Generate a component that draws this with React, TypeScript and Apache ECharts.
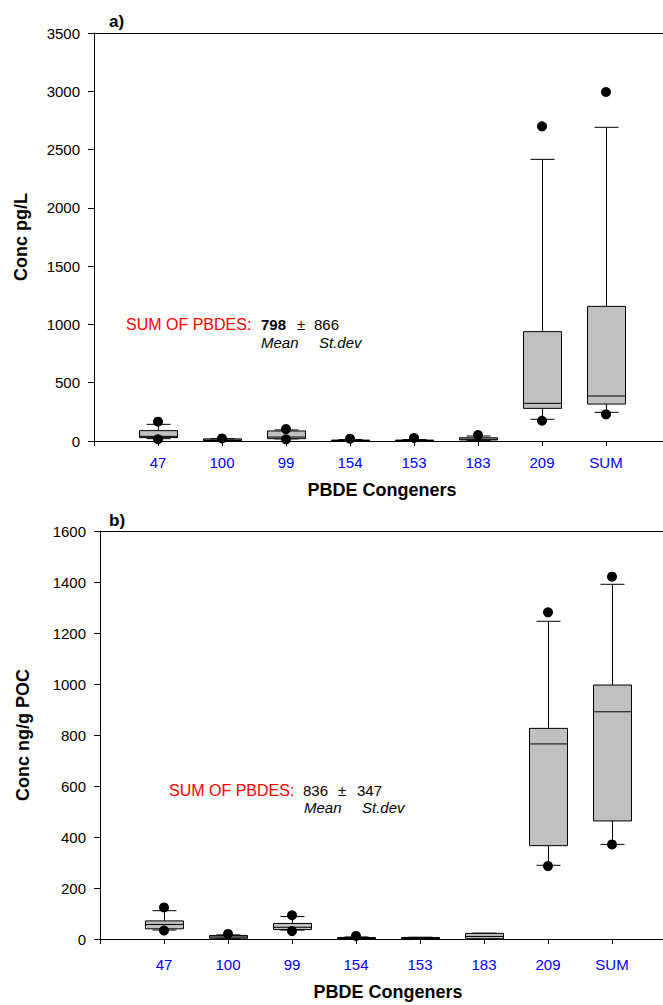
import React, { useEffect, useRef } from 'react';
import * as echarts from 'echarts';

const FONT = '"Liberation Sans", Arial, Helvetica, sans-serif';

// x categories (placed at positions 1..8 on the axis)
const categories = ['47', '100', '99', '154', '153', '183', '209', 'SUM'];

// Panel a) concentration pg/L : [lower whisker, Q1, median, Q3, upper whisker]
const boxA: number[][] = [
  [20, 29, 40, 89, 143],
  [1, 4, 8, 18, 20],
  [18, 20, 34, 86, 95],
  [1, 2, 4, 8, 12],
  [1, 2, 4, 8, 12],
  [5, 9, 15, 28, 43],
  [186, 280, 323, 938, 2416],
  [246, 317, 386, 1155, 2691],
];
// Panel a) outliers per category
const outA: number[][] = [
  [166, 15],
  [22],
  [102, 14],
  [20],
  [26],
  [51],
  [2699, 174],
  [2994, 229],
];

// Panel b) concentration ng/g POC : [lower whisker, Q1, median, Q3, upper whisker]
const boxB: number[][] = [
  [35, 40, 57, 71, 111],
  [1, 3, 8, 14, 16],
  [35, 37, 46, 61, 88],
  [1, 2, 4, 6, 8],
  [0.5, 1, 3, 6, 7],
  [0.5, 1, 10, 22, 23],
  [289, 366, 765, 826, 1246],
  [371, 463, 891, 996, 1391],
];
// Panel b) outliers per category
const outB: number[][] = [
  [124, 33],
  [20],
  [93, 31],
  [12],
  [],
  [],
  [1281, 286],
  [1421, 371],
];

const yAxisA = { min: 0, max: 3500, interval: 500 };
const yAxisB = { min: 0, max: 1600, interval: 200 };

const renderBox = (params: any, api: any) => {
  const x = api.value(0);
  const p = [1, 2, 3, 4, 5].map((k) => api.coord([x, api.value(k)]));
  const cx = Math.round(p[0][0]) + 0.5;
  const bw = 38;
  const cw = 24;
  const ls = { stroke: '#000', lineWidth: 1, fill: null };
  return {
    type: 'group',
    children: [
      { type: 'line', shape: { x1: cx, y1: p[4][1], x2: cx, y2: p[3][1] }, style: ls },
      { type: 'line', shape: { x1: cx, y1: p[1][1], x2: cx, y2: p[0][1] }, style: ls },
      { type: 'line', shape: { x1: cx - cw / 2, y1: p[4][1], x2: cx + cw / 2, y2: p[4][1] }, style: ls },
      { type: 'line', shape: { x1: cx - cw / 2, y1: p[0][1], x2: cx + cw / 2, y2: p[0][1] }, style: ls },
      {
        type: 'rect',
        shape: { x: cx - bw / 2, y: p[3][1], width: bw, height: p[1][1] - p[3][1] },
        style: { fill: '#c0c0c0', stroke: '#000', lineWidth: 1 },
      },
      { type: 'line', shape: { x1: cx - bw / 2, y1: p[2][1], x2: cx + bw / 2, y2: p[2][1] }, style: ls },
    ],
  };
};

const makeXAxis = (gridIndex: number, labelMargin: number, nameGap: number) => ({
  type: 'value',
  gridIndex,
  position: 'bottom',
  min: 0,
  max: 9,
  interval: 1,
  axisLine: { show: true, onZero: false, lineStyle: { color: '#000', width: 1 } },
  axisTick: { show: true, inside: false, length: 5, lineStyle: { color: '#000', width: 1 } },
  axisLabel: {
    color: '#0000ff',
    fontSize: 15,
    fontFamily: FONT,
    margin: labelMargin,
    formatter: (v: number) => categories[v - 1] ?? '',
  },
  splitLine: { show: false },
  name: 'PBDE Congeners',
  nameLocation: 'middle',
  nameGap,
  nameTextStyle: { color: '#000', fontWeight: 'bold', fontSize: 18, fontFamily: FONT },
});

// plain frame line along the top of each panel
const makeTopFrame = (gridIndex: number) => ({
  type: 'value',
  gridIndex,
  position: 'top',
  min: 0,
  max: 9,
  axisLine: { show: true, onZero: false, lineStyle: { color: '#000', width: 1 } },
  axisTick: { show: false },
  axisLabel: { show: false },
  splitLine: { show: false },
});

const makeYAxis = (gridIndex: number, cfg: any, name: string, nameGap: number) => ({
  type: 'value',
  gridIndex,
  min: cfg.min,
  max: cfg.max,
  interval: cfg.interval,
  axisLine: { show: true, onZero: false, lineStyle: { color: '#000', width: 1 } },
  axisTick: { show: true, inside: false, length: 6, lineStyle: { color: '#000', width: 1 } },
  axisLabel: {
    color: '#000',
    fontSize: 15,
    fontFamily: FONT,
    margin: 14,
    formatter: (v: number) => String(v),
  },
  splitLine: { show: false },
  name,
  nameLocation: 'middle',
  nameGap,
  nameTextStyle: { color: '#000', fontWeight: 'bold', fontSize: 18, fontFamily: FONT },
});

const txt = (text: string, x: number, y: number, extra: any = {}) => ({
  type: 'text',
  x,
  y,
  style: {
    text,
    fill: '#000',
    fontSize: 15,
    fontFamily: FONT,
    textAlign: 'left',
    textVerticalAlign: 'middle',
    ...extra,
  },
});

export default function App() {
  const ref = useRef<HTMLDivElement>(null);
  useEffect(() => {
    const chart = echarts.init(ref.current!, null, { renderer: 'svg' });
    const gridStyle = {
      show: false,
      containLabel: false,
      outerBoundsMode: 'none',
    };
    chart.setOption({
      animation: false,
      grid: [
        { left: 94, top: 33, width: 576, height: 408, ...gridStyle },
        { left: 100, top: 531, width: 576, height: 408, ...gridStyle },
      ],
      xAxis: [makeXAxis(0, 14, 40), makeXAxis(1, 18, 44), makeTopFrame(0), makeTopFrame(1)],
      yAxis: [
        makeYAxis(0, yAxisA, 'Conc pg/L', 64),
        makeYAxis(1, yAxisB, 'Conc ng/g POC', 68),
      ],
      series: [
        {
          type: 'custom',
          xAxisIndex: 0,
          yAxisIndex: 0,
          renderItem: renderBox,
          encode: { x: 0, y: [1, 2, 3, 4, 5] },
          data: boxA.map((b, i) => [i + 1, ...b]),
          clip: false,
          z: 2,
        },
        {
          type: 'scatter',
          xAxisIndex: 0,
          yAxisIndex: 0,
          symbol: 'circle',
          symbolSize: 10,
          itemStyle: { color: '#000', opacity: 1 },
          data: outA.flatMap((arr, i) => arr.map((v) => [i + 1, v])),
          z: 3,
        },
        {
          type: 'custom',
          xAxisIndex: 1,
          yAxisIndex: 1,
          renderItem: renderBox,
          encode: { x: 0, y: [1, 2, 3, 4, 5] },
          data: boxB.map((b, i) => [i + 1, ...b]),
          clip: false,
          z: 2,
        },
        {
          type: 'scatter',
          xAxisIndex: 1,
          yAxisIndex: 1,
          symbol: 'circle',
          symbolSize: 10,
          itemStyle: { color: '#000', opacity: 1 },
          data: outB.flatMap((arr, i) => arr.map((v) => [i + 1, v])),
          z: 3,
        },
      ],
      graphic: [
        txt('a)', 109, 21, { fontWeight: 'bold', fontSize: 17 }),
        txt('b)', 109, 520, { fontWeight: 'bold', fontSize: 17 }),
        txt('SUM OF PBDES:', 126, 324, { fill: '#ff0000', fontSize: 16 }),
        txt('798', 261, 324, { fontWeight: 'bold' }),
        txt('±', 297, 324),
        txt('866', 314, 324),
        txt('Mean', 261, 342, { fontStyle: 'italic' }),
        txt('St.dev', 319, 342, { fontStyle: 'italic' }),
        txt('SUM OF PBDES:', 169, 790, { fill: '#ff0000', fontSize: 16 }),
        txt('836', 303, 790),
        txt('±', 338, 790),
        txt('347', 357, 790),
        txt('Mean', 304, 807, { fontStyle: 'italic' }),
        txt('St.dev', 362, 807, { fontStyle: 'italic' }),
      ],
    });
    return () => chart.dispose();
  }, []);
  return (
    <div
      ref={ref}
      style={{ position: 'absolute', left: 0, top: 0, width: 663, height: 1005 }}
    />
  );
}
